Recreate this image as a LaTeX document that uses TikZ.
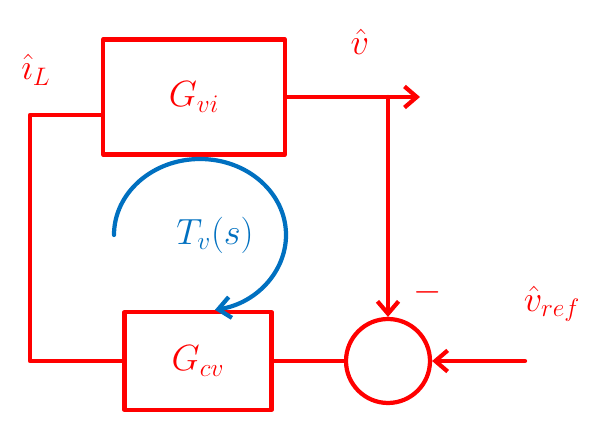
\documentclass[tikz,border=0pt]{standalone}
\usetikzlibrary{arrows.meta,positioning}
\definecolor{penred}{RGB}{255,0,0}
\definecolor{penblue}{RGB}{0,112,192}
\tikzset{
  wire/.style={draw=penred, line width=2.4pt, line cap=round, line join=round},
  tip/.style={-{Straight Barb[length=7pt,width=12pt]}},
  blk/.style={wire, inner sep=0pt},
  lbl/.style={text=penred, font=\fontsize{20}{24}\selectfont},
}
\begin{document}
\begin{tikzpicture}[x=0.02cm,y=-0.02cm]
  \useasboundingbox (0,0) rectangle (602,421);
  % blocks
  \node[blk, minimum width=3.64cm, minimum height=2.3cm] (gvi) at (194,97) {};
  \node[lbl] (gvitxt) at (gvi.center) {$G_{vi}$};
  \node[blk, minimum width=2.94cm, minimum height=1.96cm] (gcv) at (198,361) {};
  \node[lbl] (gcvtxt) at (gcv.center) {$G_{cv}$};
  \node[blk, circle, minimum size=1.68cm] (sum) at (388,361) {};
  % loop wires
  \coordinate (vend) at (420,97);
  \coordinate (tap) at (388,97);
  \coordinate (ref) at (525,361);
  \coordinate (il) at (30,115);
  \draw[wire,tip] (gvi.east) -- (vend);
  \draw[wire,tip] (tap) -- (sum.north);
  \draw[wire,tip] (ref) -- (sum.east);
  \draw[wire] (sum.west) -- (gcv.east);
  \draw[wire] (gcv.west) -| (il) -- (il -| gvi.west);
  % labels
  \node[lbl] (vhat) at (360,42) {$\hat{v}$};
  \node[lbl] (minus) at (428,292) {$-$};
  \node[lbl] (vref) at (552,304) {$\hat{v}_{ref}$};
  \node[lbl, inner sep=1pt] (ihat) at (36,70) {$\hat{\imath}_L$};
  % loop gain
  \node[text=penblue, font=\fontsize{22}{26}\selectfont] (tv) at (215,235) {$T_v(s)$};
  \draw[draw=penblue, line width=2.4pt, line cap=round, tip]
    (200,235) ++(-86,0) arc[start angle=180, end angle=440, x radius=86, y radius=76];
\end{tikzpicture}
\end{document}
